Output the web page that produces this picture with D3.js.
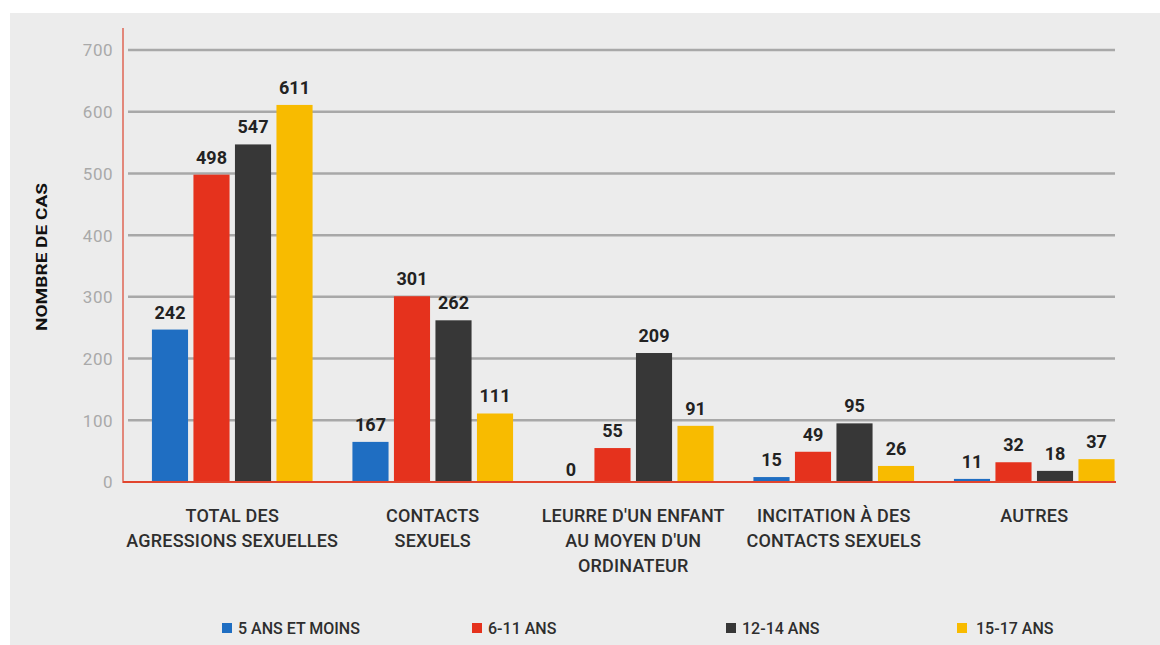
<!DOCTYPE html>
<html>
<head>
<meta charset="utf-8">
<script src="https://cdn.jsdelivr.net/npm/d3@7"></script>
<style>
    body { margin: 0; background: #ffffff; }
    .tickText { font-family: Roboto, sans-serif; font-size: 17px; fill: #a9a9a9; letter-spacing: 0.5px; }
    .valueText { font-family: Roboto, sans-serif; font-size: 18px; font-weight: 700; fill: #222222; }
    .catText { font-family: Roboto, sans-serif; font-size: 18px; font-weight: 500; fill: #2e2e2e; letter-spacing: 0.2px; }
    .legendText { font-family: Roboto, sans-serif; font-size: 16px; font-weight: 500; fill: #2e2e2e; }
    .yTitle { font-family: Roboto, sans-serif; font-size: 15px; font-weight: 700; fill: #111111; }
</style>
</head>
<body>
<svg id="chart" width="1160" height="645"></svg>
<script>
const categories = [
    ['TOTAL DES', 'AGRESSIONS SEXUELLES'],
    ['CONTACTS', 'SEXUELS'],
    ["LEURRE D'UN ENFANT", "AU MOYEN D'UN", 'ORDINATEUR'],
    ['INCITATION À DES', 'CONTACTS SEXUELS'],
    ['AUTRES']
]
const seriesNames = ['5 ANS ET MOINS', '6-11 ANS', '12-14 ANS', '15-17 ANS']
const seriesColors = ['#1f6ec2', '#e5321d', '#373737', '#f8bb00']

// printed labels
const ans5 = [242, 167, 0, 15, 11]
const ans6to11 = [498, 301, 55, 49, 32]
const ans12to14 = [547, 262, 209, 95, 18]
const ans15to17 = [611, 111, 91, 26, 37]
// the blue bars are not drawn at their printed value in the picture
const ans5Drawn = [247, 65, 0, 8, 5]

const yTicks = [0, 100, 200, 300, 400, 500, 600, 700]

const series = [
    { name: seriesNames[0], color: seriesColors[0], label: ans5, drawn: ans5Drawn },
    { name: seriesNames[1], color: seriesColors[1], label: ans6to11, drawn: ans6to11 },
    { name: seriesNames[2], color: seriesColors[2], label: ans12to14, drawn: ans12to14 },
    { name: seriesNames[3], color: seriesColors[3], label: ans15to17, drawn: ans15to17 }
]

const style = {
    pdg: { l: 123, r: 1116, t: 28, b: 482 },
    cat: { w: 200.5 }
}

let svg = d3.select('#chart')

svg.append('rect')
    .attr('x', 10)
    .attr('y', 13)
    .attr('width', 1150)
    .attr('height', 632)
    .attr('fill', '#ececec')

let y = d3.scaleLinear()
    .domain([0, 700])
    .range([style.pdg.b, 50])

let x0 = d3.scaleBand()
    .domain(d3.range(categories.length))
    .range([132, 132 + style.cat.w * categories.length])

let x1 = d3.scaleBand()
    .domain(d3.range(series.length))
    .range([0, x0.bandwidth()])
    .paddingInner(0.13)
    .paddingOuter(0.48)

// grid
svg.append('g')
    .selectAll('line')
    .data(yTicks.slice(1))
    .enter()
    .append('line')
    .attr('x1', 128)
    .attr('x2', 1115)
    .attr('y1', d => y(d))
    .attr('y2', d => y(d))
    .attr('stroke', '#a8a8a8')
    .attr('stroke-width', 2.5)

// tick labels
let yAxis = d3.axisLeft(y)
    .tickValues(yTicks)
    .tickSize(0)
    .tickPadding(10)

svg.append('g')
    .attr('transform', 'translate(' + [style.pdg.l, 0] + ')')
    .call(yAxis)
    .call(g => g.select('.domain').remove())
    .call(g => g.selectAll('text').attr('class', 'tickText').attr('dy', '0.35em').attr('font-family', null).attr('font-size', null).attr('fill', null))

svg.append('text')
    .attr('class', 'yTitle')
    .attr('transform', 'translate(' + [47, 257] + ') rotate(-90)')
    .attr('textLength', 148)
    .attr('lengthAdjust', 'spacingAndGlyphs')
    .style('text-anchor', 'middle')
    .text('NOMBRE DE CAS')

// bars
let groups = svg.append('g')
    .selectAll('g')
    .data(categories)
    .enter()
    .append('g')
    .attr('transform', (d, i) => 'translate(' + [x0(i), 0] + ')')

groups.selectAll('rect')
    .data((d, i) => series.map((s, j) => ({ j: j, color: s.color, v: s.drawn[i] })))
    .enter()
    .append('rect')
    .attr('x', d => x1(d.j))
    .attr('width', x1.bandwidth())
    .attr('y', d => y(d.v))
    .attr('height', d => y(0) - y(d.v))
    .attr('fill', d => d.color)

groups.selectAll('.valueText')
    .data((d, i) => series.map((s, j) => ({ j: j, v: s.drawn[i], label: s.label[i] })))
    .enter()
    .append('text')
    .attr('class', 'valueText')
    .attr('x', d => x1(d.j) + x1.bandwidth() / 2)
    .attr('y', d => y(d.v) - (d.v === 0 ? 6 : 11))
    .style('text-anchor', 'middle')
    .text(d => d.label)

// axes lines
svg.append('line')
    .attr('x1', style.pdg.l)
    .attr('x2', style.pdg.l)
    .attr('y1', style.pdg.t)
    .attr('y2', style.pdg.b + 1)
    .attr('stroke', '#e2877a')
    .attr('stroke-width', 2)

svg.append('line')
    .attr('x1', style.pdg.l)
    .attr('x2', style.pdg.r)
    .attr('y1', style.pdg.b)
    .attr('y2', style.pdg.b)
    .attr('stroke', '#e2452e')
    .attr('stroke-width', 2)

// category labels
groups.append('text')
    .attr('class', 'catText')
    .attr('x', x0.bandwidth() / 2)
    .attr('y', 522)
    .style('text-anchor', 'middle')
    .selectAll('tspan')
    .data(d => d)
    .enter()
    .append('tspan')
    .attr('x', x0.bandwidth() / 2)
    .attr('dy', (d, i) => i === 0 ? 0 : 25)
    .text(d => d)

// legend
const legendX = [222, 472, 726, 957]
let legendG = svg.append('g')
    .selectAll('g')
    .data(series)
    .enter()
    .append('g')
    .attr('transform', (d, i) => 'translate(' + [legendX[i], 628] + ')')

legendG.append('rect')
    .attr('y', -5)
    .attr('width', 10)
    .attr('height', 10)
    .attr('fill', d => d.color)

legendG.append('text')
    .attr('class', 'legendText')
    .attr('x', (d, i) => i === 3 ? 19 : 16)
    .attr('dy', '0.36em')
    .text(d => d.name)
</script>
</body>
</html>
